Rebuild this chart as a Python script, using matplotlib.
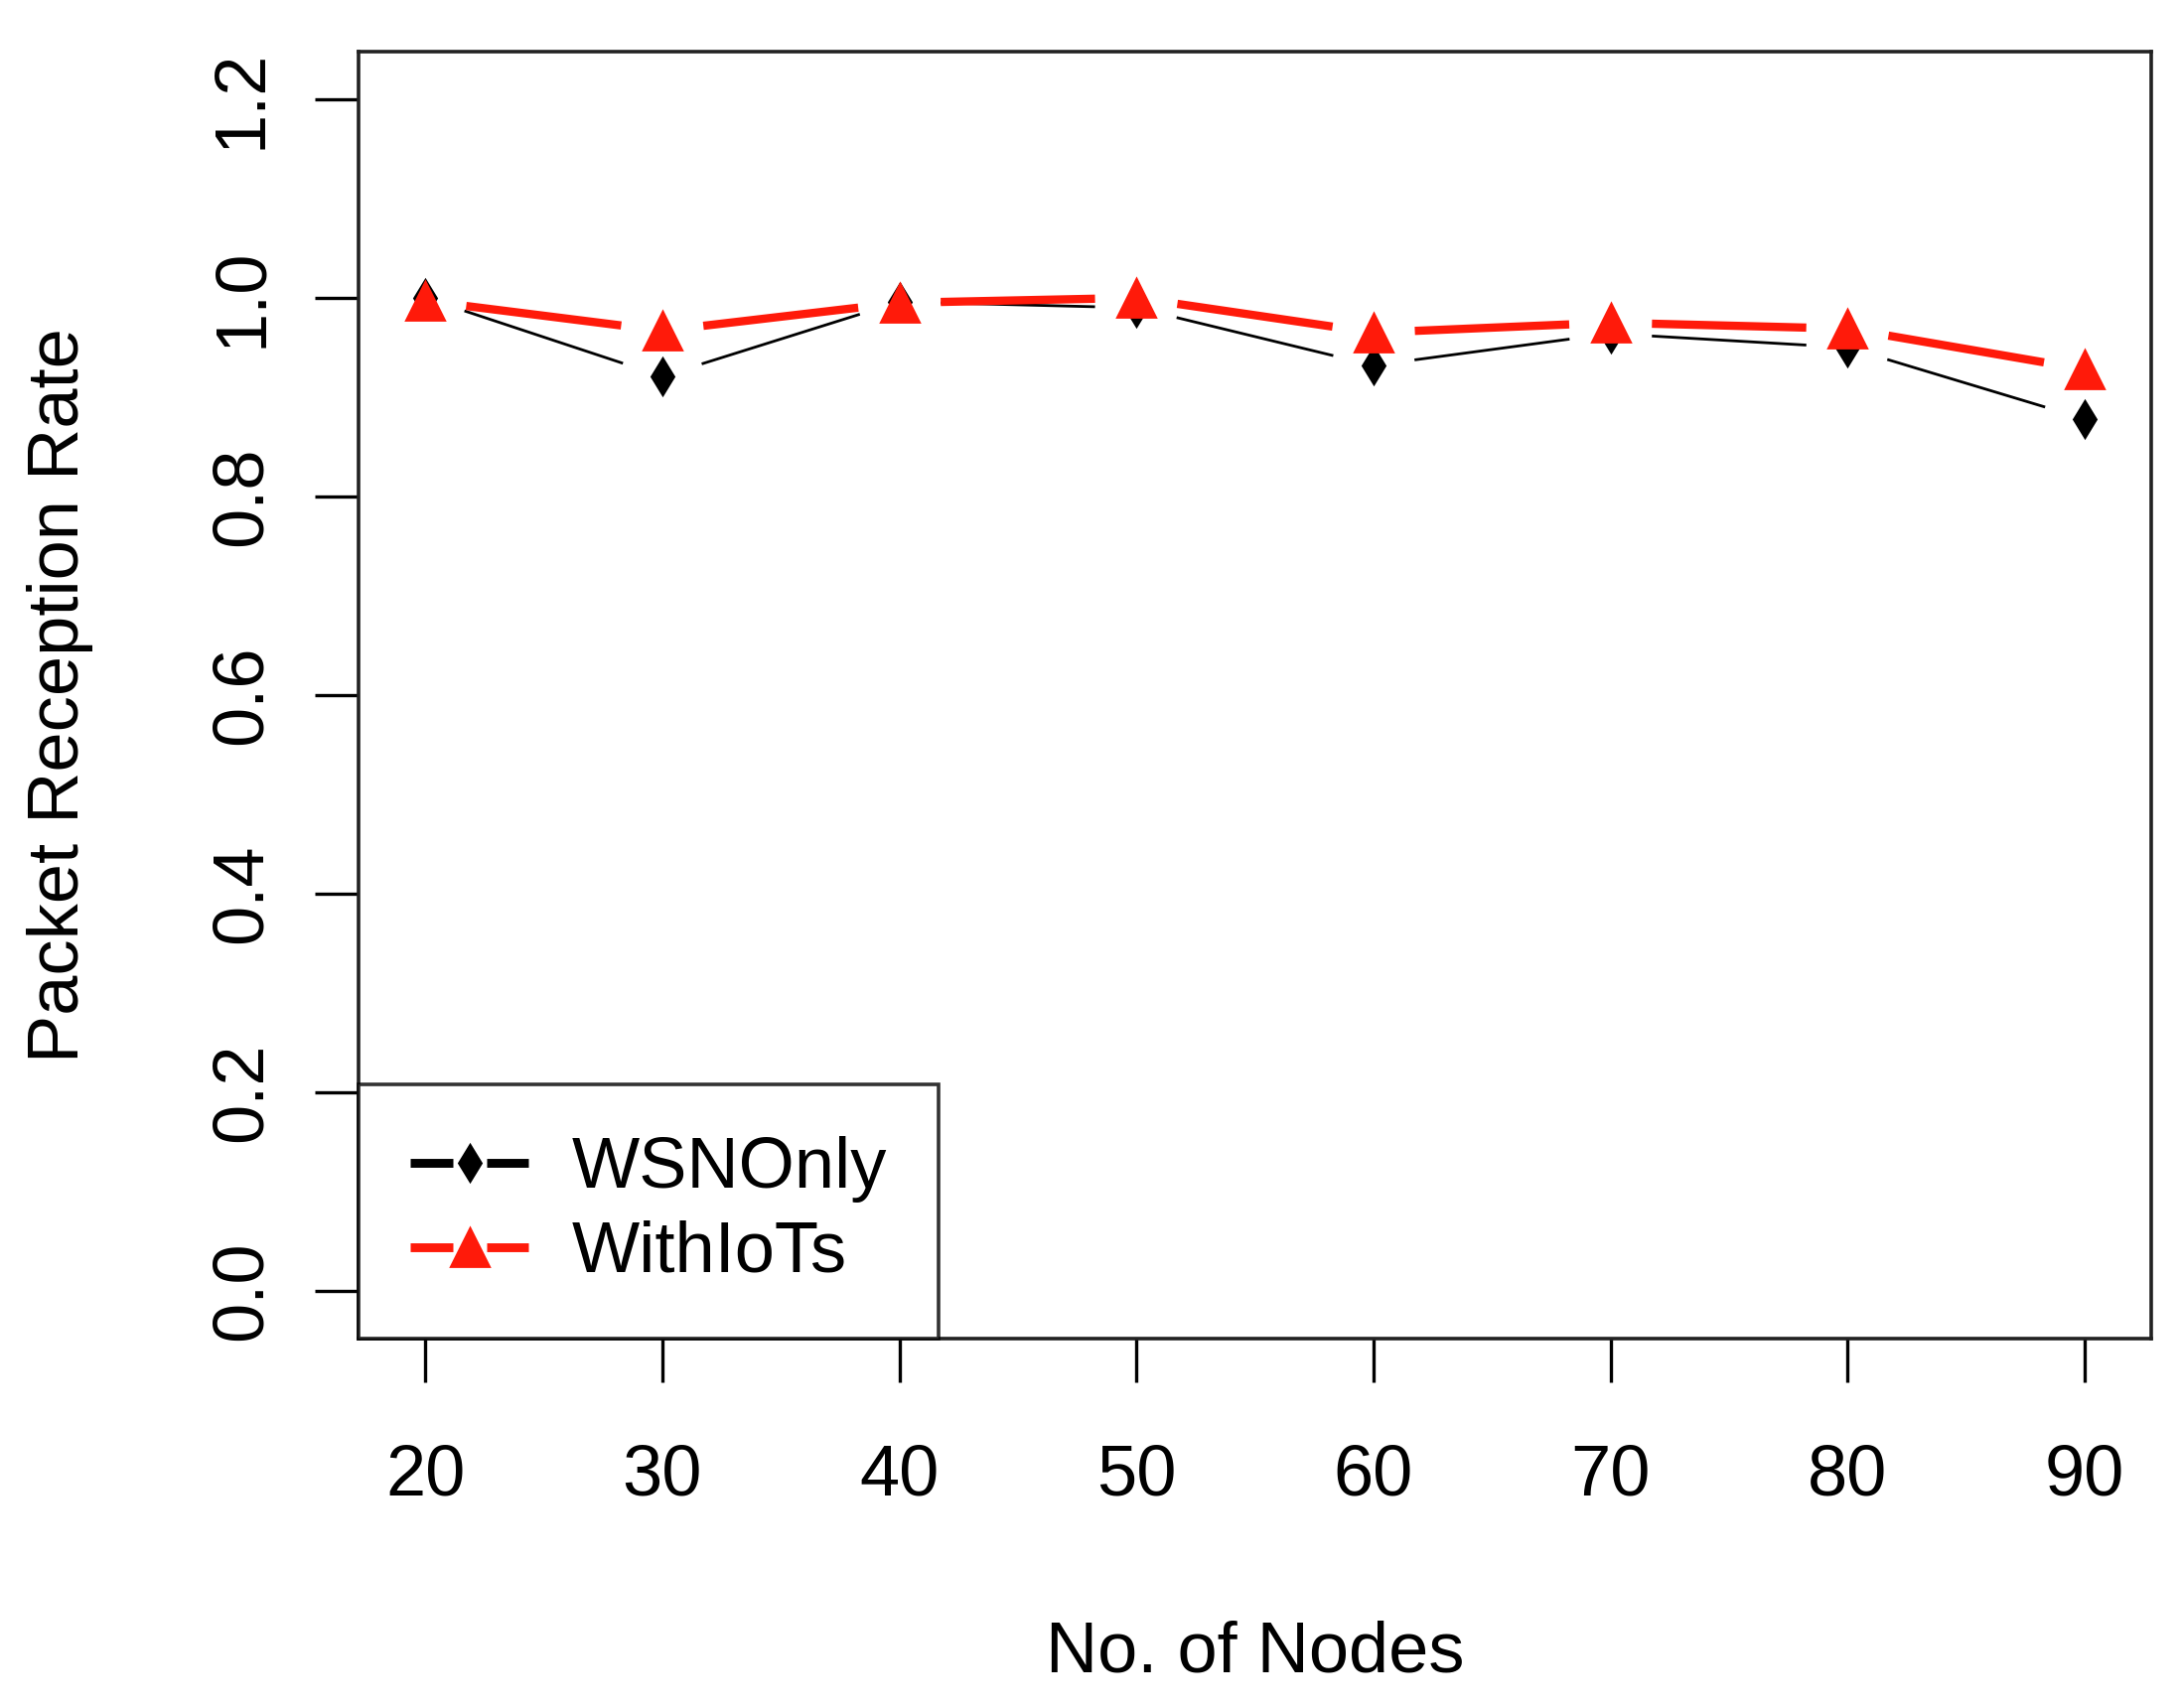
import numpy as np
import matplotlib
matplotlib.use("Agg")
import matplotlib.pyplot as plt
from matplotlib.lines import Line2D
from matplotlib.legend_handler import HandlerBase

plt.rcParams['font.family'] = ['Liberation Sans', 'DejaVu Sans']

nodes = [20, 30, 40, 50, 60, 70, 80, 90]
wsn_only = [1.000, 0.921, 0.996, 0.990, 0.932, 0.964, 0.950, 0.878]
with_iots = [0.997, 0.967, 0.995, 1.000, 0.965, 0.975, 0.969, 0.928]
yticks = [0.0, 0.2, 0.4, 0.6, 0.8, 1.0, 1.2]

GAP = 15  # points of gap around each marker (like R type="b")
RED = '#ff1a0a'
FS = 26


class HandlerGapLine(HandlerBase):
    # line - marker - line, with gaps, as in R legends
    def create_artists(self, legend, orig, xd, yd, w, h, fontsize, trans):
        y = yd + h / 2
        g = w * 0.14
        c = orig.get_color()
        lw = 3.2
        a = Line2D([xd, xd + w / 2 - g], [y, y], color=c, lw=lw, solid_capstyle='butt')
        b = Line2D([xd + w / 2 + g, xd + w], [y, y], color=c, lw=lw, solid_capstyle='butt')
        m = Line2D([xd + w / 2], [y], marker=orig.get_marker(), color=c,
                   markersize=orig.get_markersize(), linestyle='none')
        for art in (a, b, m):
            art.set_transform(trans)
        return [a, b, m]


def gap_lines(ax, x, y, color, lw):
    # draw segments between points, shortened near the markers
    fig = ax.figure
    pts = ax.transData.transform(np.column_stack([x, y]))
    gap_px = GAP * fig.dpi / 72
    for p0, p1 in zip(pts[:-1], pts[1:]):
        d = p1 - p0
        L = np.hypot(*d)
        if L <= 2 * gap_px:
            continue
        u = d / L
        q0 = ax.transData.inverted().transform(p0 + u * gap_px)
        q1 = ax.transData.inverted().transform(p1 - u * gap_px)
        ax.plot([q0[0], q1[0]], [q0[1], q1[1]], color=color, lw=lw,
                solid_capstyle='butt', zorder=2)


fig = plt.figure(figsize=(10.98, 8.6), dpi=200)
ax = fig.add_axes([0.1645, 0.2163, 0.9863 - 0.1645, 0.9698 - 0.2163])
ax.set_xlim(17.2, 92.8)
ax.set_ylim(-0.048, 1.248)

gap_lines(ax, nodes, wsn_only, 'black', 1.0)
gap_lines(ax, nodes, with_iots, RED, 3.0)

ax.plot(nodes, wsn_only, linestyle='none', marker='d', color='black',
        markersize=9, zorder=3)
ax.plot(nodes, with_iots, linestyle='none', marker='^', color=RED,
        markersize=14, zorder=4)

h1 = Line2D([], [], color='black', marker='d', markersize=9)
h2 = Line2D([], [], color=RED, marker='^', markersize=14)
leg = ax.legend([h1, h2], ['WSNOnly', 'WithIoTs'], loc='lower left',
                handler_map={Line2D: HandlerGapLine()},
                fontsize=FS, frameon=True, fancybox=False, borderaxespad=0,
                handlelength=1.65, handletextpad=0.6, labelspacing=0.25,
                borderpad=0.72)
leg.get_frame().set_edgecolor('black')
leg.get_frame().set_linewidth(1.3)

ax.set_xticks(nodes)
ax.set_yticks(yticks)
ax.set_yticklabels([f"{v:.1f}" for v in yticks], rotation=90, va='center')
ax.tick_params(axis='both', length=16, width=1.2, labelsize=FS, color='black')
ax.tick_params(axis='x', pad=22)
ax.tick_params(axis='y', pad=14)
for s in ax.spines.values():
    s.set_linewidth(1.3)
    s.set_color('#222222')

ax.set_xlabel('No. of Nodes', fontsize=FS, labelpad=40)
ax.set_ylabel('Packet Reception Rate', fontsize=FS, labelpad=42)

fig.savefig('out.png', dpi=200)
